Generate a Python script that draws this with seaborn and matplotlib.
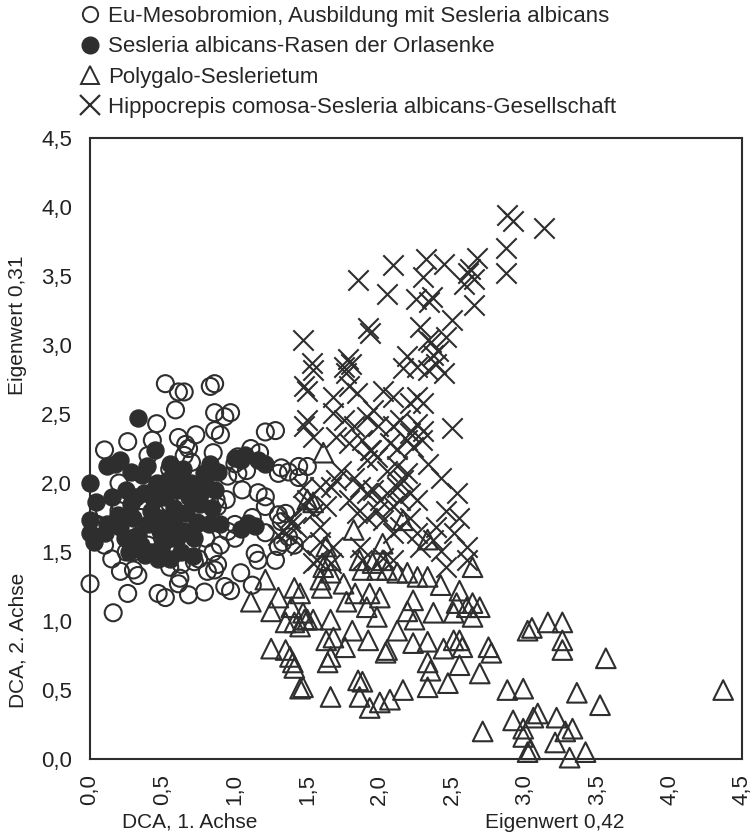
import matplotlib
matplotlib.use('Agg')
import matplotlib.pyplot as plt
import seaborn as sns
import pandas as pd
from matplotlib.lines import Line2D

sns.set_theme(style='white')
plt.rcParams['font.family'] = ['Liberation Sans', 'DejaVu Sans']

# ---------------- data ----------------
group_labels = [
    "Eu-Mesobromion, Ausbildung mit Sesleria albicans",
    "Sesleria albicans-Rasen der Orlasenke",
    "Polygalo-Seslerietum",
    "Hippocrepis comosa-Sesleria albicans-Gesellschaft",
]

eu_x = [0.52, 0.61, 0.65, 0.83, 0.86, 0.59, 0.46, 0.86, 0.97, 0.93, 0.90, 0.86, 1.21, 1.28,
        0.26, 0.10, 0.43, 0.66, 0.68, 0.61, 0.73, 0.85, 1.02, 1.11, 1.17, 1.30, 1.32, 1.37,
        1.44, 1.44, 1.08, 1.02, 1.00, 0.94, 1.16, 1.21, 1.21, 1.12, 1.30, 1.35, 1.32, 1.37,
        1.33, 1.30, 1.41, 1.14, 1.21, 0.88, 0.87,
        0.00, 0.16, 0.26, 0.21, 0.33, 0.30, 0.47, 0.52, 0.55, 0.61, 0.62, 0.68, 0.79, 0.81,
        0.86, 0.88, 0.93, 0.97, 1.04, 1.12, 1.16, 1.28, 0.72, 0.63,
        0.20, 0.30, 0.40, 0.50, 0.60, 0.70, 0.80, 0.90, 1.00, 0.15, 0.25, 0.35, 0.45, 0.55,
        0.65, 0.70, 0.75, 0.55, 0.40, 0.20, 0.10, 1.00, 0.95, 0.85, 0.75, 0.55, 0.30, 0.10,
        0.05, 0.95, 1.05, 1.50]
eu_y = [2.72, 2.66, 2.66, 2.70, 2.72, 2.53, 2.43, 2.51, 2.51, 2.48, 2.35, 2.38, 2.37, 2.38,
        2.30, 2.24, 2.31, 2.28, 2.25, 2.33, 2.35, 2.22, 2.19, 2.25, 2.22, 2.07, 2.11, 2.08,
        2.12, 2.04, 2.09, 2.07, 2.14, 1.88, 1.93, 1.90, 1.83, 1.75, 1.77, 1.78, 1.72, 1.61,
        1.57, 1.54, 1.55, 1.49, 1.64, 1.83, 1.88,
        1.27, 1.06, 1.20, 1.36, 1.33, 1.37, 1.20, 1.17, 1.39, 1.27, 1.31, 1.19, 1.21, 1.36,
        1.37, 1.41, 1.25, 1.22, 1.35, 1.26, 1.44, 1.44, 1.43, 1.41,
        1.80, 1.50, 1.55, 1.60, 1.50, 1.55, 1.60, 1.55, 1.60, 1.45, 1.50, 1.75, 1.95, 1.85,
        2.20, 2.15, 1.95, 2.10, 2.20, 2.00, 1.80, 1.70, 1.65, 1.50, 1.45, 1.55, 1.60, 1.55,
        1.70, 2.05, 1.95, 2.12]

orla_x = [0.00, 0.04, 0.00, 0.00, 0.10, 0.03, 0.12, 0.17, 0.21, 0.19, 0.21, 0.32, 0.37,
          0.45, 0.55, 0.83, 0.79, 0.33, 1.00, 1.04, 1.16, 1.21, 1.07, 1.04, 1.09, 1.14,
          0.25, 0.28, 0.30, 0.33, 0.35, 0.38, 0.40, 0.42, 0.44, 0.46, 0.48, 0.50, 0.50,
          0.52, 0.54, 0.56, 0.58, 0.58, 0.60, 0.62, 0.63, 0.65, 0.66, 0.68, 0.70, 0.72,
          0.74, 0.76, 0.78, 0.80, 0.82, 0.84, 0.86, 0.88, 0.36, 0.28, 0.24, 0.27, 0.42,
          0.47, 0.15, 0.12, 0.39, 0.64, 0.71, 0.55, 0.90, 0.60]
orla_y = [2.00, 1.86, 1.73, 1.64, 1.64, 1.57, 2.12, 2.14, 2.17, 1.77, 1.68, 1.90, 1.93,
          2.24, 2.14, 2.14, 2.07, 2.47, 2.18, 2.17, 2.17, 2.14, 2.20, 1.67, 1.71, 1.69,
          1.95, 1.85, 1.75, 1.62, 1.55, 1.48, 1.70, 1.80, 1.88, 2.00, 1.65, 1.55, 1.75,
          1.90, 2.02, 1.60, 1.70, 1.82, 1.95, 2.05, 1.50, 1.65, 1.78, 1.90, 2.00, 1.60,
          1.72, 1.85, 1.95, 2.05, 1.70, 1.82, 1.95, 2.08, 2.06, 2.08, 1.60, 1.50, 1.50,
          1.45, 1.90, 1.70, 2.12, 2.10, 1.47, 1.45, 1.70, 1.60]

poly_x = [1.61, 1.50, 1.54, 1.82, 2.02, 2.16, 2.33, 1.63, 1.86, 1.95, 2.02, 1.66,
          1.21, 1.11, 1.25, 1.30, 1.41, 1.39, 1.35, 1.41, 1.48, 1.45, 1.25, 1.35, 1.38,
          1.40, 1.41, 1.45,
          2.64, 1.61, 1.66, 1.59, 1.60, 1.75, 1.83, 1.77, 1.88, 1.98, 2.05, 2.12, 2.19,
          1.93, 2.00, 1.91, 1.98, 2.26, 2.33, 2.42, 2.23, 2.19, 2.24, 2.37, 2.55, 2.53,
          2.51, 2.60, 2.64, 2.69, 2.64, 3.02, 1.45, 1.50, 1.54, 1.66, 1.47, 1.63, 1.68,
          1.76, 1.81, 1.92, 1.64, 1.66, 1.47, 1.66, 1.85, 1.88, 1.86, 1.93, 2.00, 2.07,
          2.16, 2.05, 2.12, 2.04, 2.23, 2.33, 2.33, 2.35, 2.33, 2.47, 2.44, 2.51, 2.55,
          2.57, 2.55, 2.69, 2.75, 2.77, 2.88, 2.99, 2.71, 2.92, 2.99, 3.04,
          3.05, 3.16, 3.26, 3.26, 3.26, 3.56, 4.37, 3.36, 3.52, 3.06, 3.09, 3.22, 3.33,
          3.28, 3.21, 2.99, 3.02, 3.31, 3.42]
poly_y = [2.22, 1.88, 1.86, 1.66, 1.56, 1.73, 1.59, 1.54, 1.44, 1.42, 1.44, 1.44,
          1.30, 1.14, 1.07, 1.17, 1.24, 1.10, 0.99, 0.99, 1.01, 0.96, 0.80, 0.79, 0.74,
          0.70, 0.66, 0.51,
          1.39, 1.39, 1.35, 1.30, 1.24, 1.27, 1.20, 1.14, 1.37, 1.37, 1.37, 1.35, 1.35,
          1.20, 1.17, 1.10, 1.03, 1.32, 1.32, 1.26, 1.15, 1.07, 1.01, 1.06, 1.22, 1.13,
          1.06, 1.10, 1.13, 1.10, 1.03, 0.93, 1.20, 1.01, 1.01, 1.01, 1.06, 0.86, 0.88,
          0.81, 0.93, 0.86, 0.70, 0.74, 0.52, 0.45, 0.57, 0.56, 0.45, 0.37, 0.41, 0.43,
          0.50, 0.79, 0.93, 0.77, 0.84, 0.85, 0.70, 0.64, 0.52, 0.55, 0.80, 0.86, 0.86,
          0.81, 0.68, 0.62, 0.81, 0.77, 0.50, 0.51, 0.20, 0.28, 0.16, 0.07,
          0.95, 0.99, 0.99, 0.86, 0.79, 0.73, 0.50, 0.48, 0.39, 0.30, 0.33, 0.30, 0.22,
          0.20, 0.12, 0.22, 0.05, 0.01, 0.05]

hipp_x = [2.88, 2.92, 3.13, 2.87, 2.87, 2.67, 2.61, 2.65, 2.44, 2.32, 2.30, 2.36, 2.25,
          2.65, 2.09, 1.85, 2.05, 1.92, 1.78, 1.53, 1.47, 2.50, 2.28, 2.33, 2.46, 2.19,
          2.37, 2.34, 2.62, 2.35, 2.40, 1.93, 1.80, 2.58,
          1.54, 1.75, 1.77, 2.16, 2.26, 2.33, 2.39, 2.44,
          1.50, 1.68, 1.79, 1.84, 2.02, 2.09, 2.21, 2.26, 2.30,
          1.50, 1.68, 1.75, 1.82, 1.91, 1.95, 1.99, 2.09, 2.14, 2.21, 2.26, 2.30, 2.50,
          1.54, 1.70, 1.79, 1.88, 1.93, 1.98, 2.07, 2.12, 2.19, 2.23, 2.29, 2.33, 2.42,
          2.53, 2.46, 2.55, 2.60, 2.60, 2.51, 2.39, 2.37,
          2.26, 2.21, 2.14, 2.12, 2.16, 2.00, 2.05, 1.95, 2.05, 2.12, 2.19, 1.91, 1.94,
          1.82, 1.86, 1.91, 1.73, 1.70, 1.66, 1.59, 1.63, 1.59, 1.54, 1.50, 1.47,
          1.79, 1.84, 1.91, 1.98, 2.02, 2.09, 2.09, 2.14, 2.21, 2.26, 2.28,
          1.59, 1.68, 1.66, 1.57, 1.86, 1.88, 2.02, 2.09, 2.42, 2.46,
          1.48, 1.48, 1.39, 1.35, 1.48, 1.30, 1.38, 1.42, 1.45, 1.54]
hipp_y = [3.94, 3.90, 3.85, 3.70, 3.52, 3.63, 3.52, 3.48, 3.59, 3.62, 3.49, 3.35, 3.33,
          3.29, 3.58, 3.47, 3.37, 3.12, 2.90, 2.87, 3.04, 3.18, 3.13, 3.04, 3.06, 2.92,
          2.93, 3.31, 3.55, 3.02, 2.96, 3.09, 2.86, 3.44,
          2.82, 2.84, 2.80, 2.83, 2.84, 2.82, 2.86, 2.80,
          2.67, 2.62, 2.70, 2.65, 2.67, 2.62, 2.58, 2.62, 2.58,
          2.46, 2.51, 2.46, 2.41, 2.48, 2.53, 2.41, 2.41, 2.46, 2.36, 2.43, 2.38, 2.40,
          2.33, 2.33, 2.29, 2.31, 2.24, 2.19, 2.29, 2.25, 2.31, 2.26, 2.31, 2.14, 2.04,
          1.93, 1.80, 1.75, 1.54, 1.44, 1.64, 1.68, 1.59,
          1.88, 1.93, 1.88, 1.97, 2.02, 1.88, 1.93, 1.95, 2.09, 2.12, 2.07, 2.17, 2.24,
          2.04, 1.97, 1.93, 2.09, 2.02, 1.97, 1.97, 1.83, 1.68, 1.78, 1.88, 1.97,
          1.88, 1.78, 1.75, 1.80, 1.73, 1.83, 1.64, 1.68, 1.75, 1.64, 1.54,
          1.57, 1.54, 1.42, 1.44, 1.54, 1.44, 1.46, 1.44, 1.51, 1.39,
          2.70, 2.41, 1.71, 1.64, 1.83, 1.62, 1.75, 1.68, 1.55, 1.42]

xticks = [0.0, 0.5, 1.0, 1.5, 2.0, 2.5, 3.0, 3.5, 4.0, 4.5]
yticks = [0.0, 0.5, 1.0, 1.5, 2.0, 2.5, 3.0, 3.5, 4.0, 4.5]
tick_text = ["0,0", "0,5", "1,0", "1,5", "2,0", "2,5", "3,0", "3,5", "4,0", "4,5"]

# ---------------- frame ----------------
df_eu = pd.DataFrame({'x': eu_x, 'y': eu_y})
df_or = pd.DataFrame({'x': orla_x, 'y': orla_y})
df_po = pd.DataFrame({'x': poly_x, 'y': poly_y})
df_hi = pd.DataFrame({'x': hipp_x, 'y': hipp_y})

ink = '#2e2e2e'
fig = plt.figure(figsize=(7.54, 8.39), dpi=100)
ax = fig.add_axes([0.1194, 0.0953, 0.8647, 0.7402])

sns.scatterplot(data=df_eu, x='x', y='y', ax=ax, marker='o', s=150,
                facecolors='none', edgecolor=ink, linewidth=1.5, clip_on=False, zorder=2)
sns.scatterplot(data=df_or, x='x', y='y', ax=ax, marker='o', s=150,
                color=ink, edgecolor=ink, linewidth=1.0, clip_on=False, zorder=3)
sns.scatterplot(data=df_po, x='x', y='y', ax=ax, marker='^', s=200,
                facecolors='none', edgecolor=ink, linewidth=1.5, clip_on=False, zorder=4)
sns.scatterplot(data=df_hi, x='x', y='y', ax=ax, marker='x', s=215,
                color=ink, linewidth=1.5, clip_on=False, zorder=5)

ax.set_xlim(0, 4.5)
ax.set_ylim(0, 4.5)
ax.set_xticks(xticks)
ax.set_xticklabels(tick_text, rotation=90, fontsize=16, color='#222222')
ax.set_yticks(yticks)
ax.set_yticklabels(tick_text, fontsize=16, color='#222222')
ax.tick_params(axis='both', direction='out', length=6, width=1.3, color=ink)
ax.tick_params(axis='y', pad=7)
ax.tick_params(axis='x', pad=5)
ax.set_xlabel('')
ax.set_ylabel('')
for side in ['left', 'bottom', 'right', 'top']:
    ax.spines[side].set_visible(True)
    ax.spines[side].set_color(ink)
    ax.spines[side].set_linewidth(1.5)

# axis titles
lab_font = ['Liberation Sans Narrow', 'Liberation Sans', 'DejaVu Sans']
fig.text(190 / 754, 1 - 822 / 839, 'DCA, 1. Achse', ha='center', va='center',
         fontsize=15, family=lab_font, color='#222222')
fig.text(555 / 754, 1 - 822 / 839, 'Eigenwert 0,42', ha='center', va='center',
         fontsize=15, family=lab_font, color='#222222')
fig.text(18 / 754, 1 - 640 / 839, 'DCA, 2. Achse', ha='center', va='center', rotation=90,
         fontsize=15, family=lab_font, color='#222222')
fig.text(18 / 754, 1 - 325 / 839, 'Eigenwert 0,31', ha='center', va='center', rotation=90,
         fontsize=15, family=lab_font, color='#222222')

# legend
handles = [
    Line2D([], [], ls='', marker='o', ms=11, mfc='none', mec=ink, mew=1.4),
    Line2D([], [], ls='', marker='o', ms=12, mfc=ink, mec=ink),
    Line2D([], [], ls='', marker='^', ms=13, mfc='none', mec=ink, mew=1.4),
    Line2D([], [], ls='', marker='x', ms=14, mec=ink, mew=1.6),
]
fig.legend(handles, group_labels, loc='upper left', bbox_to_anchor=(80 / 754, 1 - 6 / 839),
           frameon=False, fontsize=16, handlelength=0.9, handletextpad=0.35,
           labelspacing=0.42, borderaxespad=0, borderpad=0)

fig.savefig('out.png', dpi=100)
